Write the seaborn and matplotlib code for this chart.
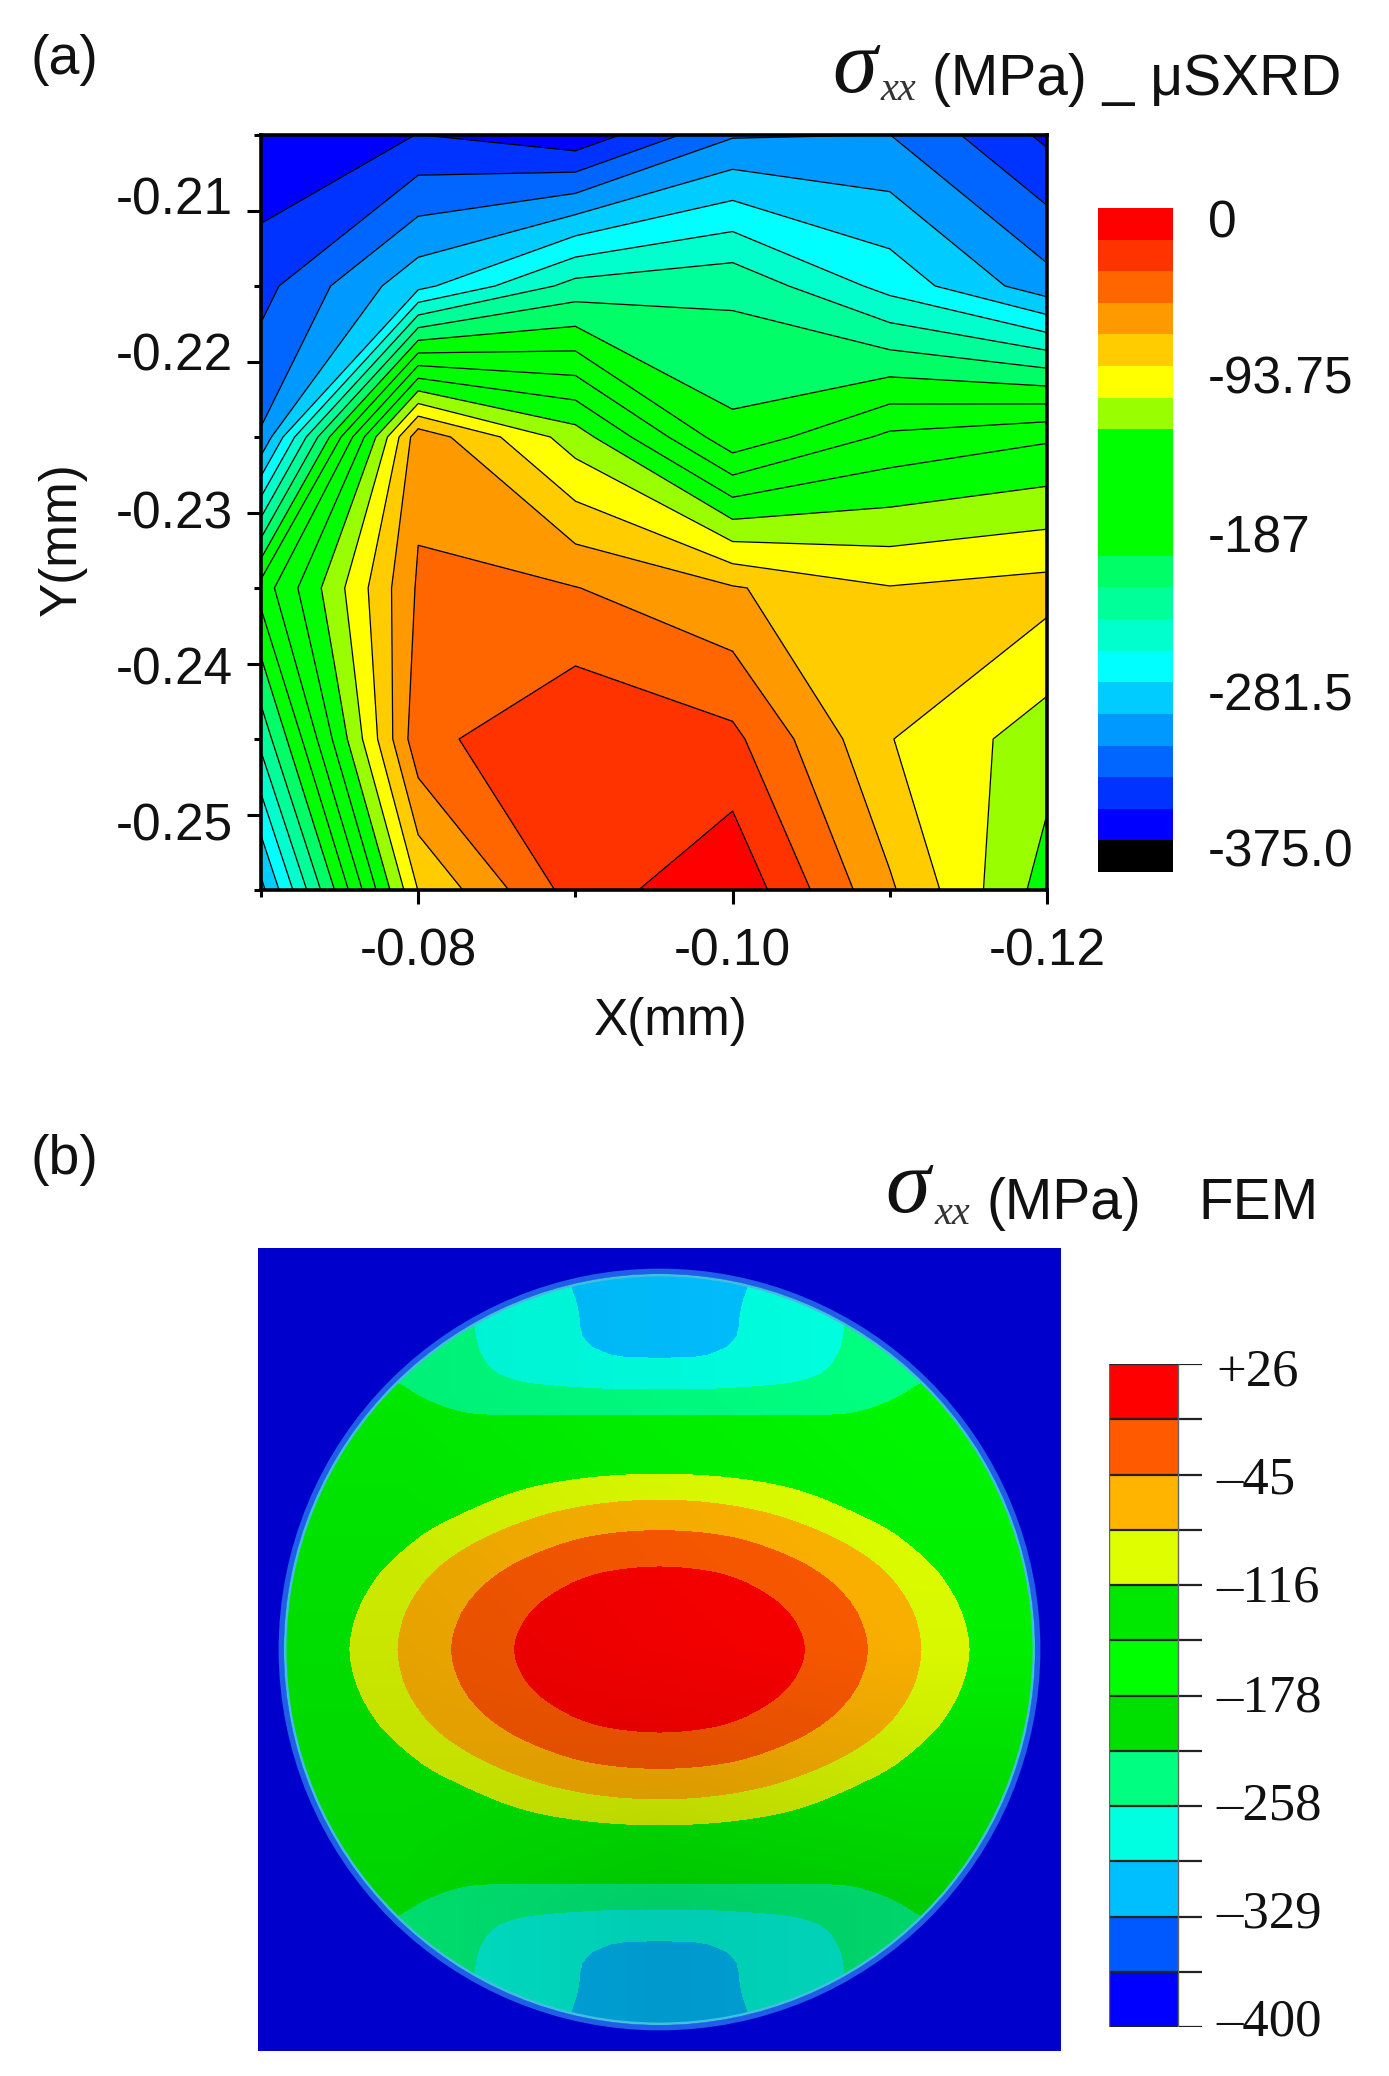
import numpy as np
import matplotlib
matplotlib.use('Agg')
import matplotlib.pyplot as plt
from matplotlib.colors import ListedColormap
from matplotlib.patches import Circle
from matplotlib.transforms import ScaledTranslation
import seaborn as sns

W, H = 1389, 2076

# (a) measured stress on the scan grid, MPa
scan_x = [-0.07, -0.08, -0.09, -0.10, -0.11, -0.12]
scan_y = [-0.205, -0.215, -0.225, -0.235, -0.245, -0.255]
stress_a = [
    [-364.1, -346.5, -360.9, -311.3, -309.2, -351.0],
    [-334.7, -277.5, -227.6, -220.3, -259.7, -301.9],
    [-307.5, -53.4, -112.5, -191.6, -155.3, -143.4],
    [-170.1, -44.3, -46.3, -63.8, -83.4, -77.4],
    [-228.8, -34.1, -11.1, -23.4, -83.6, -113.3],
    [-296.3, -83.8, -19.7, 6.0, -62.8, -130.5],
]
# colour steps of the (a) bar, top to bottom
bar_a_values = [0, -18.75, -37.5, -56.25, -75, -93.75, -112.5, -131.25, -150, -168.75, -187.5,
                -206.25, -225, -243.75, -262.5, -281.25, -300, -318.75, -337.5, -356.25, -375]
bar_a_colors = ['#ff0000', '#ff3300', '#ff6600', '#ff9900', '#ffcc00', '#ffff00', '#99ff00',
                '#00ff00', '#00ff00', '#00ff00', '#00ff00', '#00ff66', '#00ff99', '#00ffcc',
                '#00ffff', '#00ccff', '#0099ff', '#0066ff', '#0033ff', '#0000ff', '#000000']
bar_a_labels = ['0', '-93.75', '-187', '-281.5', '-375.0']
x_major = [-0.08, -0.10, -0.12]
x_major_labels = ['-0.08', '-0.10', '-0.12']
x_minor = [-0.07, -0.09, -0.11]
y_major = [-0.21, -0.22, -0.23, -0.24, -0.25]
y_major_labels = ['-0.21', '-0.22', '-0.23', '-0.24', '-0.25']
y_minor = [-0.215, -0.225, -0.235, -0.245, -0.205, -0.255]

# (b) FEM stress on one quarter of the disc (centre to rim), MPa
disc_pos = [0.0, 0.1, 0.2, 0.3, 0.4, 0.5, 0.6, 0.7, 0.8, 0.9, 1.0]
stress_b_quarter = [
    [26, 23.9, 17.1, 5.8, -10.2, -32.2, -55.7, -82.3, -108.2, -144.4, -179.9],
    [18.9, 17.1, 9.3, -1.7, -18.4, -39.3, -62.8, -87.6, -116, -151.5, -183.5],
    [-1.7, -4.2, -10.2, -23, -39.3, -58.1, -79.4, -103.6, -133.8, -165.7, -197.7],
    [-38.3, -40.4, -46.1, -58.1, -71.6, -88.7, -107.1, -135.5, -165.7, -187, -208.3],
    [-82.3, -84.1, -90.4, -98.3, -112.5, -130.2, -151.5, -179.9, -197.7, -208.3, -211.9],
    [-135.5, -137.3, -140.9, -148, -155, -165.7, -179.9, -194, -204.8, -211.9, -211.9],
    [-217.2, -217.2, -217.2, -217.2, -217.2, -217.2, -208.3, -197.7, -194, -197.7, -197.7],
    [-266.9, -266.9, -265.1, -263.3, -259.8, -250.9, -236.7, -222.5, -215.4, -215.4, -215.4],
    [-307.7, -307.7, -295.3, -279.3, -266.9, -256.9, -236.7, -229.6, -222.5, -222.5, -222.5],
    [-314.8, -314.8, -295.3, -277.5, -268.7, -258, -240.3, -230, -230, -230, -230],
    [-321.9, -321.9, -304.2, -282.9, -268.7, -258, -240, -230, -230, -230, -230],
]
bar_b_values = [8.25, -27.25, -62.75, -98.25, -133.75, -169.25, -204.75, -240.25, -275.75,
                -311.25, -346.75, -382.25]
bar_b_colors = ['#ff0000', '#ff5a00', '#ffb400', '#dfff00', '#00e800', '#00ff00', '#00e000',
                '#00ff80', '#00ffe0', '#00bfff', '#0058ff', '#0000ff']
# the disc itself shows the three green steps as one green
disc_colors = ['#ff0000', '#ff5a00', '#ffb400', '#dfff00', '#00f600', '#00f600', '#00f600',
               '#00ff80', '#00ffe0', '#00bfff', '#0058ff', '#0000ff']
bar_b_labels = ['+26', '\u201345', '\u2013116', '\u2013178', '\u2013258', '\u2013329', '\u2013400']


def px_axes(fig, left, top, right, bottom):
    return fig.add_axes([left / W, 1 - bottom / H, (right - left) / W, (bottom - top) / H])


def px_text(fig, x, y, s, **kw):
    kw.setdefault('va', 'center')
    kw.setdefault('ha', 'left')
    fig.text(x / W, 1 - y / H, s, **kw)


def band_bar(cax, values, colors):
    # colour bar strip, drawn as a one column heatmap
    cmap = ListedColormap(list(sns.color_palette(colors))[::-1])
    sns.heatmap(np.array(values).reshape(-1, 1), cmap=cmap, cbar=False, ax=cax,
                vmin=min(values), vmax=max(values), xticklabels=False, yticklabels=False)


def rounded_field(pos, table, factor=4, passes=3):
    # finer mesh + small blur, so the disc bands come out round and not as polygons
    fine = np.linspace(pos[0], pos[-1], (len(pos) - 1) * factor + 1)
    out = np.array([np.interp(fine, pos, row) for row in table])
    out = np.array([np.interp(fine, pos, col) for col in out.T]).T
    kernel = np.array([1, 2, 1]) / 4
    for _ in range(passes):
        pad = np.pad(out, 1, mode='edge')
        pad = np.apply_along_axis(lambda r: np.convolve(r, kernel, mode='same'), 0, pad)
        pad = np.apply_along_axis(lambda r: np.convolve(r, kernel, mode='same'), 1, pad)
        out = pad[1:-1, 1:-1]
    return fine, out


sns.set_theme(style='ticks')
plt.rcParams['font.family'] = ['Liberation Sans', 'DejaVu Sans']
SERIF = 'Liberation Serif'
INK = '#111111'

fig = plt.figure(figsize=(W / 100, H / 100), dpi=100, facecolor='white')

# ---- (a) ----
ax = px_axes(fig, 261, 135, 1047, 890)
step = 18.75
edges = [v - step / 2 for v in bar_a_values[::-1]] + [bar_a_values[0] + step / 2]
ax.contourf(scan_x, scan_y, stress_a, levels=edges, colors=bar_a_colors[::-1])
ax.contour(scan_x, scan_y, stress_a, levels=edges, colors='black', linewidths=0.9, linestyles='solid')
ax.set_xlim(-0.07, -0.12)
ax.set_ylim(-0.255, -0.205)
ax.set_xticks(x_major, x_major_labels)
ax.set_xticks(x_minor, minor=True)
ax.set_yticks(y_major, y_major_labels)
ax.set_yticks(y_minor, minor=True)
ax.tick_params(which='major', length=10, width=2.2, labelsize=37, color='black', labelcolor=INK)
ax.tick_params(which='minor', length=5, width=2.2, color='black')
ax.tick_params(axis='x', which='major', pad=17)
ax.tick_params(axis='y', which='major', pad=10)
# the y tick labels drift against their ticks in the original
for lab, dy in zip(ax.get_yticklabels(), [15, 10, 3, -2, -7]):
    lab.set_transform(lab.get_transform() + ScaledTranslation(0, dy / 100, fig.dpi_scale_trans))
for s in ax.spines.values():
    s.set_linewidth(2.6)
    s.set_color('black')
px_text(fig, 671, 1021, 'X(mm)', fontsize=37, ha='center', color=INK)
px_text(fig, 62, 539, 'Y(mm)', fontsize=37, ha='center', rotation=90, color=INK)
px_text(fig, 30, 60, '(a)', fontsize=40, color=INK)

cax = px_axes(fig, 1098, 208, 1173, 872)
band_bar(cax, bar_a_values, bar_a_colors)
for lab, y in zip(bar_a_labels, [224, 380, 539, 697, 853]):
    px_text(fig, 1208, y, lab, fontsize=37, color=INK)

px_text(fig, 832, 70, '\u03c3', fontsize=65, family=SERIF, style='italic', color=INK)
px_text(fig, 881, 91, 'xx', fontsize=29, family=SERIF, style='italic', color='#333333')
px_text(fig, 932, 80, '(MPa) _ \u03bcSXRD', fontsize=41, color=INK)

# ---- (b) ----
ax2 = px_axes(fig, 258, 1248, 1061, 2051)
half = 401.5 / 380
ax2.set_facecolor('#0000cd')
for s in ax2.spines.values():
    s.set_visible(False)
ax2.set_xticks([])
ax2.set_yticks([])

# mirror the quarter into the whole disc
quarter = np.array(stress_b_quarter)
right = np.vstack([quarter[:0:-1], quarter])
field = np.hstack([right[:, :0:-1], right])
pos = np.array(disc_pos)
full_pos = np.concatenate([-pos[:0:-1], pos])
fine_pos, fine_field = rounded_field(full_pos, field)
b_edges = [26 - 35.5 * k for k in range(len(bar_b_values), -1, -1)]
disc_clip = Circle((0, 0), 0.985, transform=ax2.transData)
cs = ax2.contourf(fine_pos, fine_pos, fine_field, levels=b_edges, colors=disc_colors[::-1], extend='both')
cs.set_clip_path(disc_clip)

# light falls from the upper right, lower part of the disc is darker
shade = np.zeros((3, 3, 4))
shade[..., 3] = [[0.06, 0.03, 0.0], [0.10, 0.06, 0.03], [0.14, 0.20, 0.17]]
im = ax2.imshow(shade, extent=(-1, 1, -1, 1), interpolation='bilinear', origin='upper', zorder=3)
im.set_clip_path(disc_clip)
ax2.set_xlim(-half, half)
ax2.set_ylim(-half, half)
ax2.set_aspect('auto')
ax2.add_patch(Circle((0, 0), 0.995, fill=False, edgecolor='#1f5fe8', linewidth=4, zorder=4))
ax2.add_patch(Circle((0, 0), 0.985, fill=False, edgecolor='#40c0e0', linewidth=1.8, zorder=5))

cax2 = px_axes(fig, 1109, 1364, 1202, 2027)
band_bar(cax2, bar_b_values, bar_b_colors)
# tick marks sit on each colour boundary and stick out to the right
cax2.set_xlim(0, 1.35)
cax2.hlines(range(len(bar_b_values) + 1), 0, 1.35, color='#222222', linewidth=1.6)
cax2.vlines([0, 1], 0, len(bar_b_values), color='#666666', linewidth=1)
for lab, y in zip(bar_b_labels, [1373, 1481, 1589, 1698, 1807, 1915, 2023]):
    px_text(fig, 1216, y, lab, fontsize=38, family=SERIF, color=INK)

px_text(fig, 30, 1160, '(b)', fontsize=40, color=INK)
px_text(fig, 885, 1190, '\u03c3', fontsize=65, family=SERIF, style='italic', color=INK)
px_text(fig, 934, 1214, 'xx', fontsize=29, family=SERIF, style='italic', color='#333333')
px_text(fig, 986, 1204, '(MPa)', fontsize=41, color=INK)
px_text(fig, 1198, 1204, 'FEM', fontsize=41, color=INK)

fig.savefig('out.png', dpi=100)
